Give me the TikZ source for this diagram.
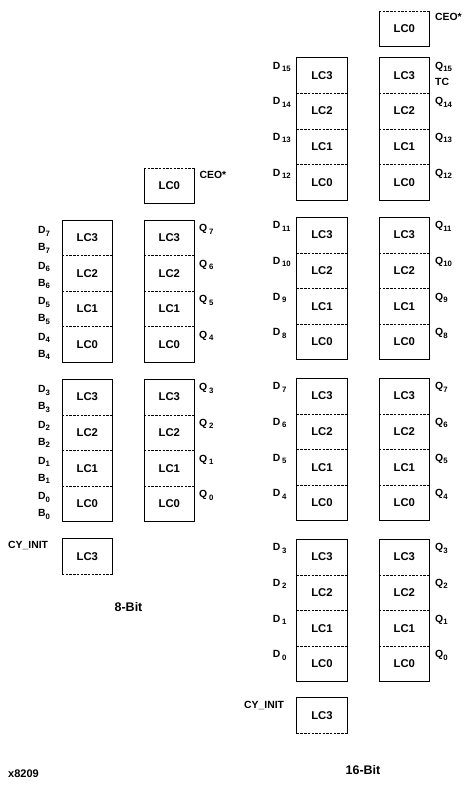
\documentclass[tikz,border=0pt]{standalone}
\usepackage{fontspec}
\setmainfont{Liberation Sans}
\newcommand\sbx[1]{\raisebox{-0.45ex}{\fontsize{7.8}{8}\selectfont #1}}
\begin{document}
\begin{tikzpicture}[x=1pt,y=-1pt,
  cell/.style={rectangle,inner sep=0pt,outer sep=0pt,minimum width=50.5pt,minimum height=35.6pt,font=\fontsize{11.3}{13}\selectfont\bfseries},
  lbl/.style={anchor=base west,inner sep=0pt,font=\fontsize{10.4}{12}\selectfont\bfseries},
  ttl/.style={anchor=base,inner sep=0pt,font=\fontsize{12.5}{14}\selectfont\bfseries},
  boxline/.style={line width=0.9pt,line join=miter},
  divline/.style={line width=0.75pt,dash pattern=on 2.4pt off 1.3pt}]
\useasboundingbox (0,0) rectangle (473,785);

% ---------------- 8-bit ----------------
\foreach \b/\t in {0/379.3,1/220}{
  \foreach \k in {0,1,2,3}{
    \pgfmathsetmacro\cy{\t+(3-\k)*35.6+17.8}
    \pgfmathtruncatemacro\n{4*\b+\k}
    \node[cell] (ea\n) at (87.3,\cy) {LC\k};
    \node[cell] (eq\n) at (169.3,\cy) {LC\k};
    \node[lbl] (ed\n) at (38,\cy-4.2) {D\sbx{\n}};
    \node[lbl] (eb\n) at (38,\cy+12.8) {B\sbx{\n}};
    \node[lbl] (eo\n) at (199,\cy-6.2) {Q\,\sbx{\n}};
  }
}
\foreach \b in {0,1}{
  \pgfmathtruncatemacro\hi{4*\b+3}
  \pgfmathtruncatemacro\lo{4*\b}
  \draw[boxline] (ea\hi.north west) rectangle (ea\lo.south east);
  \draw[boxline] (eq\hi.north west) rectangle (eq\lo.south east);
  \foreach \k in {1,2,3}{
    \pgfmathtruncatemacro\n{4*\b+\k}
    \draw[divline] (ea\n.south west) -- (ea\n.south east);
    \draw[divline] (eq\n.south west) -- (eq\n.south east);
  }
}
\node[cell] (ece) at (169.3,185.8) {LC0};
\draw[boxline] (ece.north west) -- (ece.south west) -- (ece.south east) -- (ece.north east);
\draw[divline] (ece.north west) -- (ece.north east);
\node[cell] (ecy) at (87.3,556.5) {LC3};
\draw[boxline] (ecy.south west) -- (ecy.north west) -- (ecy.north east) -- (ecy.south east);
\draw[divline] (ecy.south west) -- (ecy.south east);
\node[lbl] (eceo) at (199.5,178) {CEO*};
\node[lbl] (ecyl) at (8,548.6) {CY\_INIT};
\node[ttl] (etitle) at (128.5,611) {8-Bit};

% ---------------- 16-bit ----------------
\foreach \b/\t in {0/539.3,1/378.3,2/217.3,3/57.7}{
  \foreach \k in {0,1,2,3}{
    \pgfmathsetmacro\cy{\t+(3-\k)*35.6+17.8}
    \pgfmathtruncatemacro\n{4*\b+\k}
    \node[cell] (sa\n) at (322,\cy) {LC\k};
    \node[cell] (sq\n) at (404.3,\cy) {LC\k};
    \node[lbl] (sd\n) at (272.7,\cy-6.2) {D\,\sbx{\n}};
    \node[lbl] (so\n) at (435,\cy-6.2) {Q\sbx{\n}};
  }
}
\foreach \b in {0,1,2,3}{
  \pgfmathtruncatemacro\hi{4*\b+3}
  \pgfmathtruncatemacro\lo{4*\b}
  \draw[boxline] (sa\hi.north west) rectangle (sa\lo.south east);
  \draw[boxline] (sq\hi.north west) rectangle (sq\lo.south east);
  \foreach \k in {1,2,3}{
    \pgfmathtruncatemacro\n{4*\b+\k}
    \draw[divline] (sa\n.south west) -- (sa\n.south east);
    \draw[divline] (sq\n.south west) -- (sq\n.south east);
  }
}
\node[cell] (sce) at (404.3,28.7) {LC0};
\draw[boxline] (sce.north west) -- (sce.south west) -- (sce.south east) -- (sce.north east);
\draw[divline] (sce.north west) -- (sce.north east);
\node[cell] (scy) at (322,715.7) {LC3};
\draw[boxline] (scy.south west) -- (scy.north west) -- (scy.north east) -- (scy.south east);
\draw[divline] (scy.south west) -- (scy.south east);
\node[lbl] (sceo) at (435,20.5) {CEO*};
\node[lbl] (stc) at (435,85.3) {TC};
\node[lbl] (scyl) at (244,708.6) {CY\_INIT};
\node[ttl] (stitle) at (363,774) {16-Bit};

\node[lbl,font=\fontsize{11}{13}\selectfont\bfseries] (fig) at (8,777) {x8209};
\end{tikzpicture}
\end{document}
